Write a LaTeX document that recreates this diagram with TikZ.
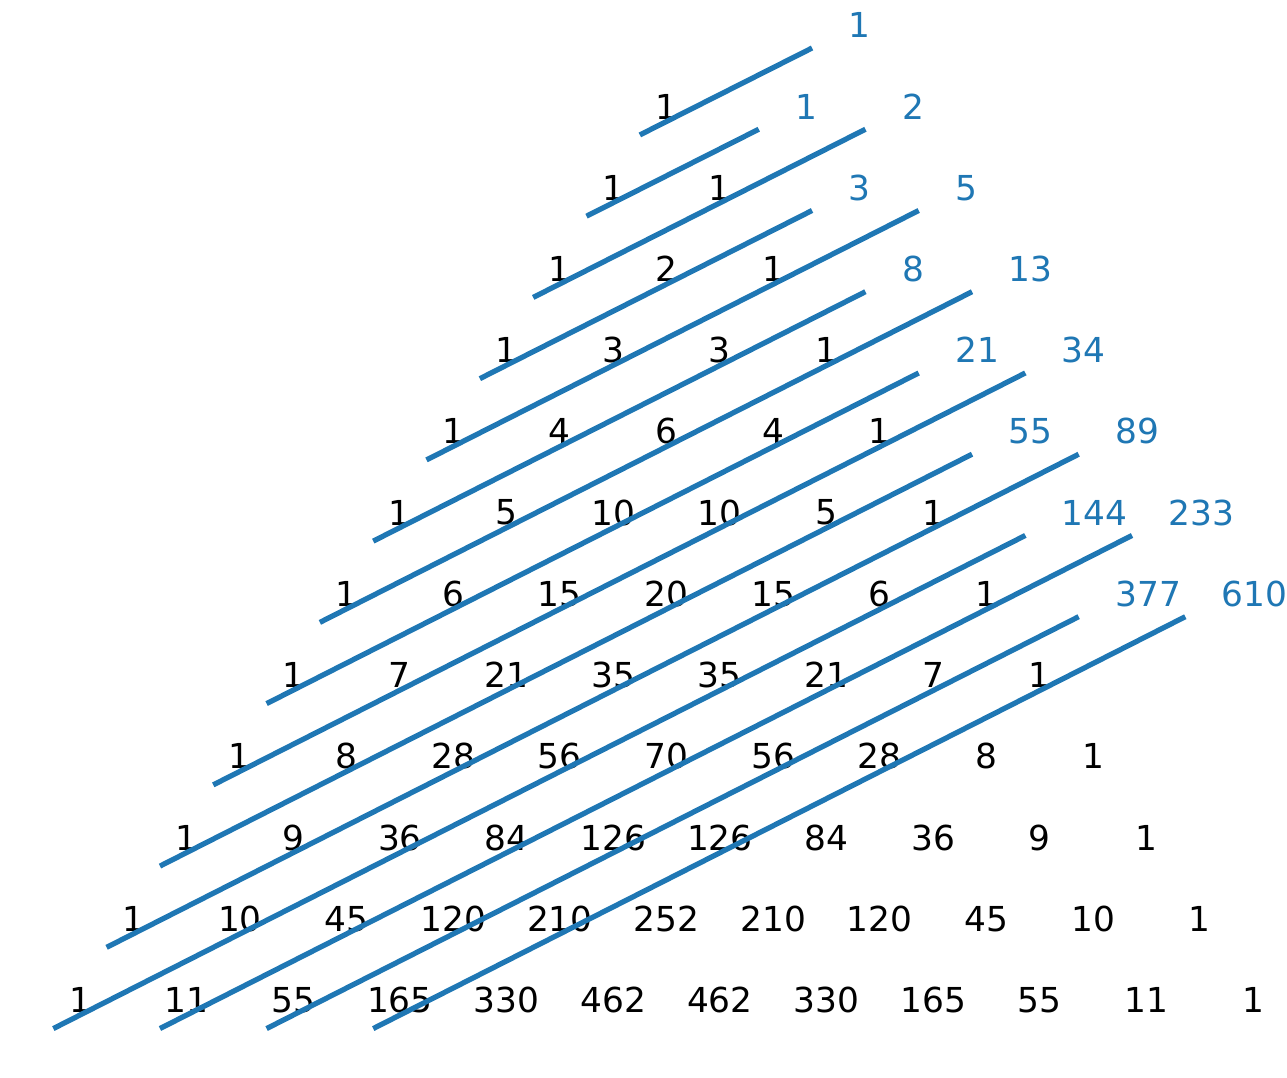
\documentclass[tikz,border=0pt]{standalone}
\usepackage{fontspec}
\setmainfont{DejaVu Sans}
\usetikzlibrary{calc}
\definecolor{mplblue}{HTML}{1F77B4}

\begin{document}
\begin{tikzpicture}[x=1cm,y=1.5236cm,inner sep=0pt]
\tikzstyle{every node}=[font=\fontsize{18.35}{22}\selectfont]
\tikzstyle{entry}=[anchor=center]
\tikzstyle{fib}=[anchor=west,text=mplblue]
\tikzstyle{diag}=[draw=mplblue,line width=2.8pt]
\useasboundingbox (-12.50,1.311) rectangle (11.637,-11.958);
% rows of the triangle
\foreach \row [count=\n from 0] in {{1},{1,1},{1,2,1},{1,3,3,1},{1,4,6,4,1},
    {1,5,10,10,5,1},{1,6,15,20,15,6,1},{1,7,21,35,35,21,7,1},
    {1,8,28,56,70,56,28,8,1},{1,9,36,84,126,126,84,36,9,1},
    {1,10,45,120,210,252,210,120,45,10,1},
    {1,11,55,165,330,462,462,330,165,55,11,1}}
  \foreach \v [count=\k from 0] in \row
    \node[entry] (p-\n-\k) at ({2*\k-\n},-\n) {\v};
% shallow diagonals and their sums
\foreach \f [count=\d from 0] in {1,1,2,3,5,8,13,21,34,55,89,144,233,377,610} {
  \pgfmathtruncatemacro\na{min(\d,11)}
  \pgfmathtruncatemacro\ka{\d-\na}
  \pgfmathtruncatemacro\kb{floor(\d/2)}
  \pgfmathtruncatemacro\nb{\d-\kb}
  \coordinate (s-\d) at ($(p-\na-\ka)+(-0.5,-0.35)$);
  \coordinate (e-\d) at ($(p-\nb-\kb)+(2.73,0.72)$);
  \draw[diag] (s-\d) -- (e-\d);
  \node[fib] (f-\d) at ($(p-\nb-\kb)+(3.41,1)$) {\f};
}
\end{tikzpicture}
\end{document}
